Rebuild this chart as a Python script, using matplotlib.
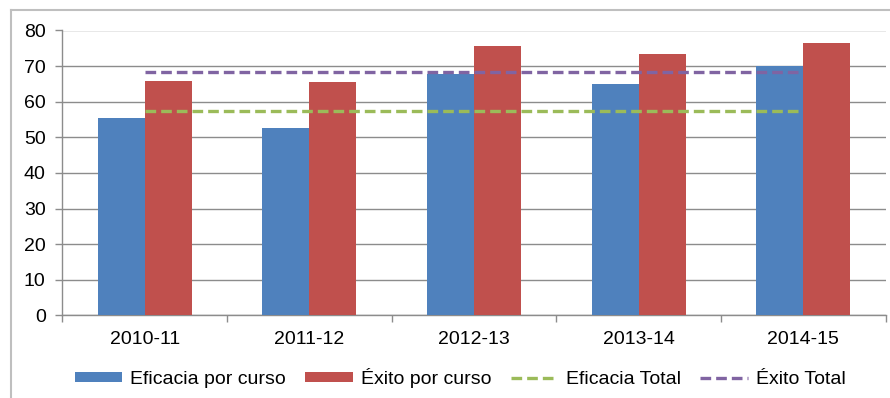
import matplotlib
matplotlib.use("Agg")
import matplotlib.pyplot as plt
from matplotlib.lines import Line2D
from matplotlib.patches import Patch
import numpy as np

plt.rcParams['font.family'] = ['Liberation Sans', 'DejaVu Sans']

cursos = ["2010-11", "2011-12", "2012-13", "2013-14", "2014-15"]
eficacia_curso = [55.3, 52.7, 67.9, 65.1, 70.1]
exito_curso = [65.7, 65.6, 75.6, 73.3, 76.6]
eficacia_total = 57.3
exito_total = 68.4
y_ticks = [0, 10, 20, 30, 40, 50, 60, 70, 80]

blue = "#4F81BD"
red = "#C0504D"
green = "#9BBB59"
purple = "#8064A2"
grid_col = "#8C8C8C"
fs = 14

fig = plt.figure(figsize=(8.9, 3.98), dpi=100)
ax = fig.add_axes([62.3 / 890, 1 - 315.3 / 398, (885.7 - 62.3) / 890, (315.3 - 30.5) / 398])

x = np.arange(len(cursos))
w = 0.285
ax.bar(x - w / 2, eficacia_curso, w, color=blue, zorder=3)
ax.bar(x + w / 2, exito_curso, w, color=red, zorder=3)

ax.plot([x[0], x[-1]], [eficacia_total] * 2, color=green, lw=2.4,
        dashes=(3.2, 1.5), zorder=4)
ax.plot([x[0], x[-1]], [exito_total] * 2, color=purple, lw=2.4,
        dashes=(3.2, 1.5), zorder=4)

ax.set_xlim(-0.5, len(cursos) - 0.5)
ax.set_ylim(0, 80)
ax.set_yticks(y_ticks)
ax.yaxis.grid(True, color=grid_col, lw=1.0, zorder=0)
ax.set_axisbelow(True)

ax.set_xticks(x)
ax.set_xticklabels(cursos, fontsize=fs)
ax.set_xticks(np.arange(-0.5, len(cursos), 1.0), minor=True)
ax.tick_params(axis='x', which='major', length=0, pad=11.5)
ax.tick_params(axis='x', which='minor', length=5, color=grid_col, width=1)
ax.tick_params(axis='y', length=5, color=grid_col, width=1, labelsize=fs, pad=7)

for s in ("top", "right"):
    ax.spines[s].set_visible(False)
for s in ("left", "bottom"):
    ax.spines[s].set_color(grid_col)
    ax.spines[s].set_linewidth(1.0)

handles = [
    Patch(facecolor=blue, label="Eficacia por curso"),
    Patch(facecolor=red, label="Éxito por curso"),
    Line2D([], [], color=green, lw=2.4, dashes=(3.2, 1.5), label="Eficacia Total"),
    Line2D([], [], color=purple, lw=2.4, dashes=(3.2, 1.5), label="Éxito Total"),
]
fig.legend(handles=handles, loc="center", ncol=4, frameon=False, fontsize=fs,
           bbox_to_anchor=(0.517, 1 - 377.5 / 398), handlelength=2.45,
           handleheight=0.42, handletextpad=0.4, columnspacing=1.0,
           borderpad=0.1)

# outer chart frame
fig.add_artist(Line2D([10.5 / 890, 10.5 / 890], [0, 1 - 10 / 398],
                      transform=fig.transFigure, color="#BFBFBF", lw=1.5))
fig.add_artist(Line2D([10.5 / 890, 1], [1 - 10 / 398, 1 - 10 / 398],
                      transform=fig.transFigure, color="#BFBFBF", lw=1.5))

fig.savefig("out.png", dpi=100)
